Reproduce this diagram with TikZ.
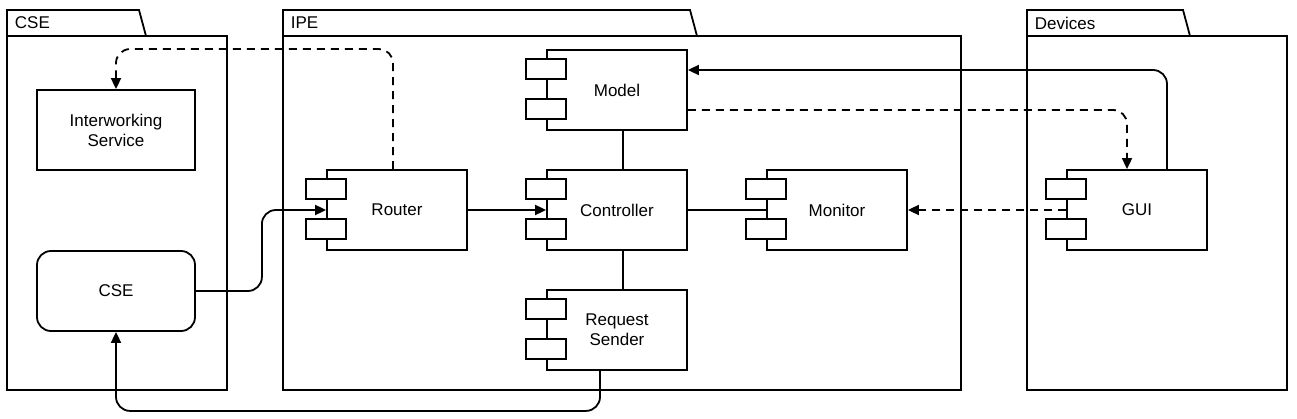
\documentclass[tikz,border=0pt]{standalone}
\usepackage{fontspec}
\setmainfont{Liberation Sans}
\usepackage{tikz}
\usetikzlibrary{
  arrows.meta,
  positioning,
  calc
}

\begin{document}
\begin{tikzpicture}[x=1pt, y=-1pt, line width=1.8pt, font=\fontsize{17}{20}\selectfont,
  comp/.style={draw, fill=white, minimum width=140pt, minimum height=80pt, inner sep=0pt, align=center},
  plain/.style={draw, fill=white, minimum width=158pt, minimum height=80pt, inner sep=0pt, align=center},
  port/.style={draw, fill=white},
  link/.style={rounded corners=14pt},
  tip/.style={-{Triangle[length=11pt, width=10pt]}},
  dep/.style={dash pattern=on 8pt off 6pt}]
  \useasboundingbox (0,0) rectangle (1297,419);

  % Packages (tab + body)
  \foreach \l/\t/\r/\name in {7/139/227/CSE, 283/690/961/IPE, 1027/1183/1287/Devices}{
    \draw (\l,36) -- (\l,10) -- (\t,10) -- ({\t+7},36) -- (\r,36) -- (\r,390) -- (\l,390) -- cycle;
    \draw (\l,36) -- ({\t+7},36);
    \node[anchor=west, inner sep=0pt] at ({\l+7},23) {\name};
  }

  % CSE side
  \node[plain] (iws) at (116,130) {Interworking\\Service};
  \node[plain, rounded corners=14pt] (cse) at (116,291) {CSE};

  % Components
  \node[comp] (model)  at (617,90)   {Model};
  \node[comp] (router) at (397,210)  {Router};
  \node[comp] (ctrl)   at (617,210)  {Controller};
  \node[comp] (mon)    at (837,210)  {Monitor};
  \node[comp] (reqs)   at (617,330)  {Request\\Sender};
  \node[comp] (gui)    at (1137,210) {GUI};

  % Component ports
  \foreach \n in {model, router, ctrl, mon, reqs, gui}{
    \draw[port] ($(\n.north west)+(-20,10)$) rectangle ++(40,20);
    \draw[port] ($(\n.north west)+(-20,50)$) rectangle ++(40,20);
  }

  % Connectors
  \draw[link, dep, tip] ($(router.north)+(-4,0)$) -- ++(0,-120) -| (iws.north);
  \draw[link, tip] (cse.east) -- ++(66,0) |- (router.west);
  \draw[tip] (router.east) -- (ctrl.west);
  \draw ($(model.south)+(6,0)$) -- ($(ctrl.north)+(6,0)$);
  \draw ($(ctrl.south)+(6,0)$) -- ($(reqs.north)+(6,0)$);
  \draw (ctrl.east) -- (mon.west);
  \draw[dep, tip] (gui.west) -- (mon.east);
  \draw[link, tip] ($(gui.north)+(30,0)$) |- ($(model.east)+(0,-20)$);
  \draw[link, dep, tip] ($(model.east)+(0,20)$) -| ($(gui.north)+(-10,0)$);
  \draw[link, tip] ($(reqs.south)+(-17,0)$) -- ++(0,40) -| (cse.south);
\end{tikzpicture}
\end{document}
